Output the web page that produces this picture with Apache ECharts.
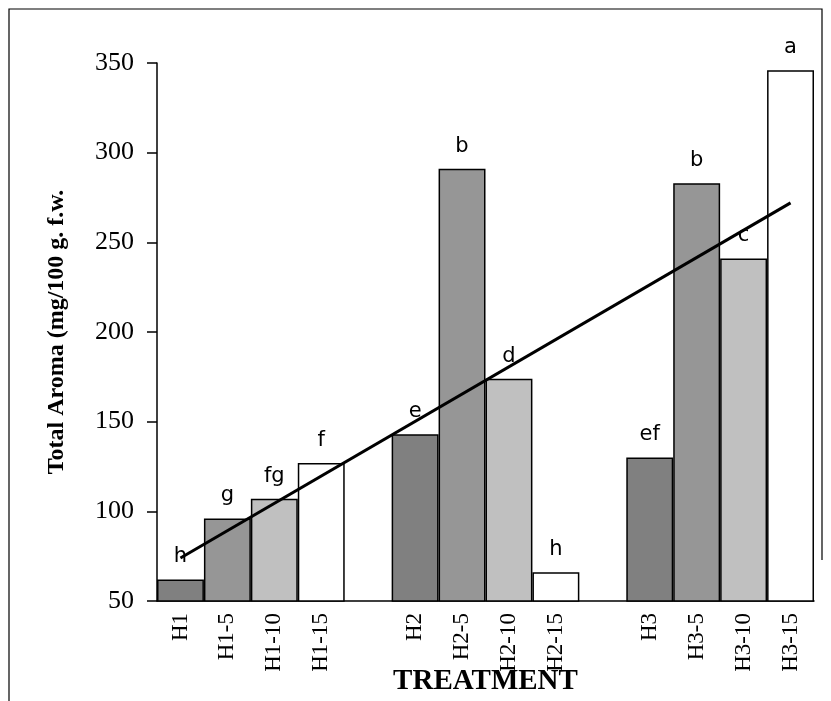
<!DOCTYPE html>
<html>
<head>
<meta charset="utf-8">
<script src="https://cdn.jsdelivr.net/npm/echarts@6/dist/echarts.min.js"></script>
<style>html,body{margin:0;padding:0;background:#fff;}#c{width:831px;height:701px;}</style>
</head>
<body>
<div id="c"></div>
<script>
const categories = ['H1','H1-5','H1-10','H1-15','','H2','H2-5','H2-10','H2-15','','H3','H3-5','H3-10','H3-15'];
const values = [62, 96, 107, 127, null, 143, 291, 174, 66, null, 130, 283, 241, 346];
const letters = ['h','g','fg','f','','e','b','d','h','','ef','b','c','a'];
const fills = ['#808080','#969696','#c0c0c0','#ffffff','#ffffff','#808080','#969696','#c0c0c0','#ffffff','#ffffff','#808080','#969696','#c0c0c0','#ffffff'];
const trend = [74, null, null, null, null, null, null, null, null, null, null, null, null, 272];
const yTicks = [50, 350, 50]; // min, max, interval

const chart = echarts.init(document.getElementById('c'), null, {renderer: 'canvas'});
chart.setOption({
  animation: false,
  backgroundColor: '#fff',
  graphic: [
    {type: 'polyline', shape: {points: [[9, 710], [9, 9], [822, 9], [822, 560]]}, style: {stroke: '#000', lineWidth: 1.2, fill: null}}
  ],
  grid: {left: 157, right: 17, top: 63, bottom: 100, containLabel: false, outerBoundsMode: 'none'},
  xAxis: {
    type: 'category',
    data: categories,
    name: 'TREATMENT',
    nameLocation: 'middle',
    nameGap: 66,
    nameMoveOverlap: false,
    nameTextStyle: {fontFamily: 'Liberation Serif', fontWeight: 'bold', fontSize: 29, color: '#000', verticalAlign: 'top'},
    axisLine: {lineStyle: {color: '#000', width: 1.5}},
    axisTick: {show: false},
    axisLabel: {interval: 0, rotate: 90, margin: 12, fontFamily: 'Liberation Serif', fontSize: 23, color: '#000'}
  },
  yAxis: {
    type: 'value',
    min: yTicks[0], max: yTicks[1], interval: yTicks[2],
    name: 'Total Aroma (mg/100 g. f.w.',
    nameLocation: 'middle',
    nameGap: 88,
    nameMoveOverlap: false,
    nameTextStyle: {fontFamily: 'Liberation Serif', fontWeight: 'bold', fontSize: 24, color: '#000'},
    axisLine: {show: true, lineStyle: {color: '#000', width: 1.5}},
    axisTick: {show: true, length: 10, lineStyle: {color: '#000', width: 1.5}},
    splitLine: {show: false},
    axisLabel: {margin: 23, fontFamily: 'Liberation Serif', fontSize: 26, color: '#000'}
  },
  series: [
    {
      type: 'bar',
      barWidth: '100%',
      data: values.map((v, i) => ({value: v, itemStyle: {color: fills[i]}, label: {formatter: letters[i]}})),
      itemStyle: {borderColor: '#000', borderWidth: 1.5},
      label: {show: true, position: 'top', distance: 12, fontFamily: 'DejaVu Sans', fontSize: 21, color: '#000'},
      z: 2
    },
    {
      type: 'line',
      data: trend,
      connectNulls: true,
      showSymbol: false,
      symbol: 'none',
      lineStyle: {color: '#000', width: 3},
      z: 5
    }
  ]
});
</script>
</body>
</html>
